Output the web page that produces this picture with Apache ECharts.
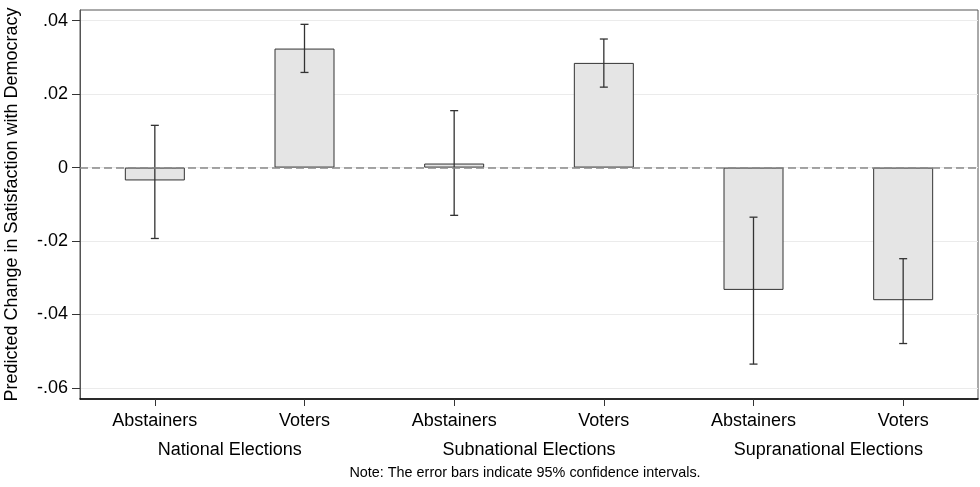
<!DOCTYPE html>
<html>
<head>
<meta charset="utf-8">
<script src="https://cdn.jsdelivr.net/npm/echarts@6/dist/echarts.min.js"></script>
<style>
html,body{margin:0;padding:0;background:#fff;}
#chart{width:980px;height:487px;}
</style>
</head>
<body>
<div id="chart"></div>
<script>
var categories = ['Abstainers','Voters','Abstainers','Voters','Abstainers','Voters'];
var groups = ['National Elections','Subnational Elections','Supranational Elections'];
var values = [-0.0035, 0.0324, 0.0011, 0.0285, -0.0333, -0.0361];
var lower  = [-0.0193, 0.0259, -0.0130, 0.0219, -0.0535, -0.0479];
var upper  = [0.0115, 0.0390, 0.0155, 0.0350, -0.0135, -0.0248];
var yTicks = [-0.06, -0.04, -0.02, 0, 0.02, 0.04];
var yTitle = 'Predicted Change in Satisfaction with Democracy';
var note = 'Note: The error bars indicate 95% confidence intervals.';

var FONT = '"Liberation Sans", Arial, Helvetica, sans-serif';
var errData = categories.map(function(c, i){ return [i, lower[i], upper[i]]; });

function fmt(v){
  if (Math.abs(v) < 1e-9) return '0';
  return (v < 0 ? '-' : '') + Math.abs(v).toFixed(2).replace(/^0/, '');
}

var chart = echarts.init(document.getElementById('chart'), null, {renderer:'canvas'});
chart.setOption({
  animation: false,
  backgroundColor: '#fff',
  textStyle: {fontFamily: FONT},
  graphic: [{
    type: 'text', x: 525, y: 473,
    style: {text: note, fontSize: 14.4, fill: '#000', fontFamily: FONT, textAlign: 'center', textVerticalAlign: 'middle'}
  }],
  grid: {left: 80, right: 2, top: 10, bottom: 88, show: true, borderColor: '#555', borderWidth: 1,
         containLabel: false, outerBoundsMode: 'none'},
  xAxis: [{
    type: 'category', data: categories, position: 'bottom',
    axisLine: {show: true, onZero: false, lineStyle: {color: '#000', width: 1.5}},
    axisTick: {show: true, alignWithLabel: true, length: 7, lineStyle: {color: '#333'}},
    axisLabel: {fontSize: 18, color: '#000', margin: 13, fontFamily: FONT},
    splitLine: {show: false}
  }, {
    type: 'category', data: groups, position: 'bottom', offset: 32,
    axisLine: {show: false, onZero: false}, axisTick: {show: false},
    axisLabel: {fontSize: 18, color: '#000', margin: 10, fontFamily: FONT},
    splitLine: {show: false}
  }],
  yAxis: {
    type: 'value', min: -0.063, max: 0.0429,
    name: yTitle, nameLocation: 'middle', nameGap: 59,
    nameTextStyle: {fontSize: 18, color: '#000', fontFamily: FONT},
    axisLine: {show: true, onZero: false, lineStyle: {color: '#555', width: 1}},
    axisTick: {show: true, inside: false, length: 8, customValues: yTicks, lineStyle: {color: '#333', width: 1}},
    axisLabel: {fontSize: 18, color: '#000', margin: 12, customValues: yTicks, formatter: fmt, fontFamily: FONT},
    splitLine: {show: true, lineStyle: {color: '#ebebeb', width: 1}}
  },
  series: [{
    type: 'bar', data: values, barWidth: 60, xAxisIndex: 0,
    itemStyle: {color: '#e5e5e5', borderColor: '#333', borderWidth: 1},
    markLine: {
      silent: true, symbol: 'none', z: 10,
      label: {show: false},
      lineStyle: {type: [8, 4], color: '#888', width: 1.5},
      data: [{yAxis: 0}]
    },
    z: 2
  }, {
    type: 'custom', xAxisIndex: 0, data: errData, z: 5,
    renderItem: function(params, api){
      var x = api.value(0);
      var lo = api.coord([x, api.value(1)]);
      var hi = api.coord([x, api.value(2)]);
      var cw = 4;
      var st = {stroke: '#333', lineWidth: 1.3};
      return {type: 'group', children: [
        {type: 'line', shape: {x1: lo[0], y1: lo[1], x2: hi[0], y2: hi[1]}, style: st},
        {type: 'line', shape: {x1: lo[0]-cw, y1: lo[1], x2: lo[0]+cw, y2: lo[1]}, style: st},
        {type: 'line', shape: {x1: hi[0]-cw, y1: hi[1], x2: hi[0]+cw, y2: hi[1]}, style: st}
      ]};
    }
  }]
});
</script>
</body>
</html>
